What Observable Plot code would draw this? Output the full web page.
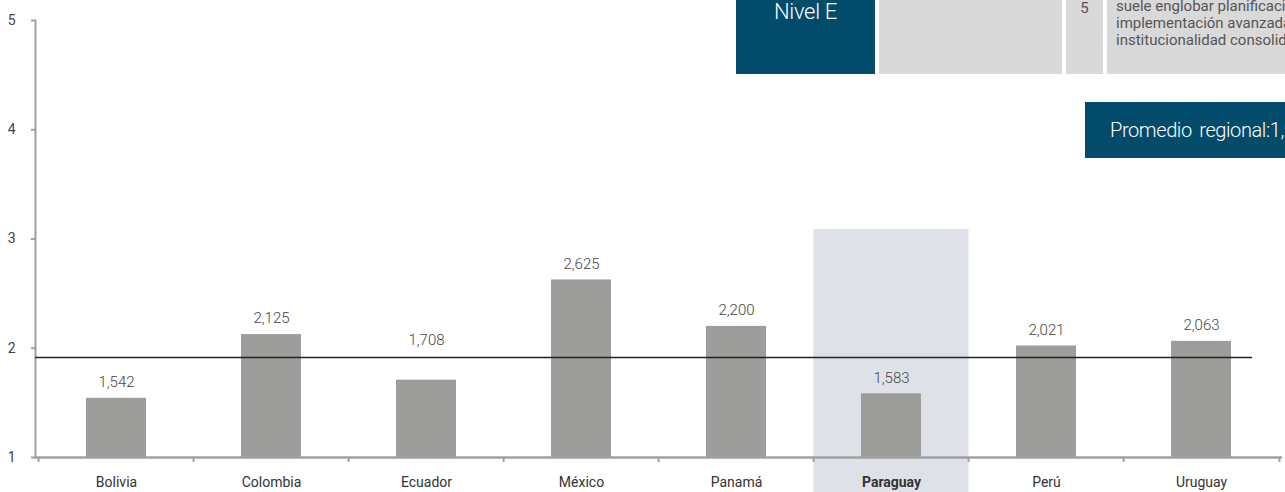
<!DOCTYPE html>
<html><head><meta charset="utf-8">
<script src="https://cdn.jsdelivr.net/npm/d3@7"></script>
<script src="https://cdn.jsdelivr.net/npm/@observablehq/plot@0.6"></script>
<style>
body{margin:0;overflow:hidden;background:#fff;font-family:Roboto,"Noto Sans",sans-serif;}
#wrap{position:relative;width:1285px;height:492px;overflow:hidden;}
#wrap svg{position:absolute;left:0;top:0;}
.box{position:absolute;box-sizing:border-box;white-space:nowrap;overflow:hidden;}
</style></head><body><div id="wrap"></div>
<script>
const countries = ["Bolivia","Colombia","Ecuador","México","Panamá","Paraguay","Perú","Uruguay"];
const values = [1.542,2.125,1.708,2.625,2.200,1.583,2.021,2.063];
const highlighted = "Paraguay";
const regionalAverage = 1.915;
const yTicks = [1,2,3,4,5];
const levelLabel = "Nivel E";
const levelNumber = "5";
const levelDescription = ["suele englobar planificación","implementación avanzada e","institucionalidad consolidada"];
const averageLabel = "Promedio regional:1,915";

const W = 1285, H = 492, mL = 35, mR = 3, mT = 20, mB = 35;
const step = (W - mL - mR) / countries.length;
const padInner = 0.61;
const data = countries.map((c, i) => ({country: c, value: values[i]}));
const fmt = v => d3.format(".3f")(v).replace(".", ",");
const nearLine = d => regionalAverage - d.value > 0 && regionalAverage - d.value < 0.25;
const axisGrey = "#a0a0a0";

const chart = Plot.plot({
  width: W, height: H, marginLeft: mL, marginRight: mR, marginTop: mT, marginBottom: mB,
  style: {fontFamily: "Roboto, 'Noto Sans', sans-serif", background: "transparent", overflow: "visible"},
  x: {domain: countries, paddingInner: padInner, paddingOuter: padInner / 2, axis: null},
  y: {domain: [1, 5], axis: null},
  marks: [
    Plot.barY([highlighted], {x: d => d, y1: () => 0.68, y2: () => 3.087, fill: "#dfe1e9",
      insetLeft: -(step * padInner) / 2, insetRight: -(step * padInner) / 2}),
    Plot.barY(data, {x: "country", y1: () => 1, y2: "value", fill: "#9d9d9b"}),
    Plot.frame({anchor: "left", stroke: axisGrey, strokeWidth: 2}),
    Plot.ruleY([1], {stroke: axisGrey, strokeWidth: 2.5}),
    Plot.ruleX(countries, {x: d => d, y1: () => 1, y2: () => 0.955, dx: -step / 2, stroke: axisGrey, strokeWidth: 2}),
    Plot.ruleX([countries[countries.length - 1]], {x: d => d, y1: () => 1, y2: () => 0.955, dx: step / 2, stroke: axisGrey, strokeWidth: 2}),
    Plot.axisY(yTicks, {label: null, tickSize: 4, tickPadding: 16, stroke: axisGrey, strokeWidth: 2, fill: "#444", fontSize: 14, tickFormat: d3.format("d")}),
    Plot.ruleY([regionalAverage], {stroke: "#222", strokeWidth: 1.6, insetRight: 30}),
    Plot.text(data.filter(d => !nearLine(d)), {x: "country", y: "value", text: d => fmt(d.value), dy: -16, fontSize: 15, fill: "#444", fontWeight: 300}),
    Plot.text(data.filter(nearLine), {x: "country", y: () => regionalAverage, text: d => fmt(d.value), dy: -17, fontSize: 15, fill: "#444", fontWeight: 300}),
    Plot.text(data.filter(d => d.country !== highlighted), {x: "country", y: () => 1, dy: 25, text: "country", fontSize: 14, fill: "#333"}),
    Plot.text(data.filter(d => d.country === highlighted), {x: "country", y: () => 1, dy: 25, text: "country", fontSize: 14, fill: "#333", fontWeight: "bold"})
  ]
});
const wrap = document.getElementById("wrap");
wrap.appendChild(chart);

function box(left, top, width, height, bg, css, html) {
  const d = document.createElement("div");
  d.className = "box";
  d.style.cssText = `left:${left}px;top:${top}px;width:${width}px;height:${height}px;background:${bg};${css || ""}`;
  if (html != null) d.innerHTML = html;
  wrap.appendChild(d);
  return d;
}
const teal = "#034b6b";
box(736, 0, 139, 74, teal, "color:#fff;font-size:22px;font-weight:300;text-align:center;line-height:24px;padding-top:0px;letter-spacing:-0.3px;", levelLabel);
box(879, 0, 183, 74, "#d9d9d9");
box(1066, 0, 37, 74, "#d9d9d9", "color:#555;font-size:15px;text-align:center;line-height:17px;padding-top:0px;", levelNumber);
box(1107, 0, 300, 74, "#d9d9d9", "color:#555;font-size:15px;line-height:17px;padding-left:9px;padding-top:0px;", `<div style="margin-top:-2px">${levelDescription.join("<br>")}</div>`);
box(1085, 102, 300, 56, teal, "color:#fff;font-size:20px;font-weight:300;line-height:24px;padding-left:25px;padding-top:16px;word-spacing:3px;letter-spacing:-0.4px;", averageLabel);
</script></body></html>
